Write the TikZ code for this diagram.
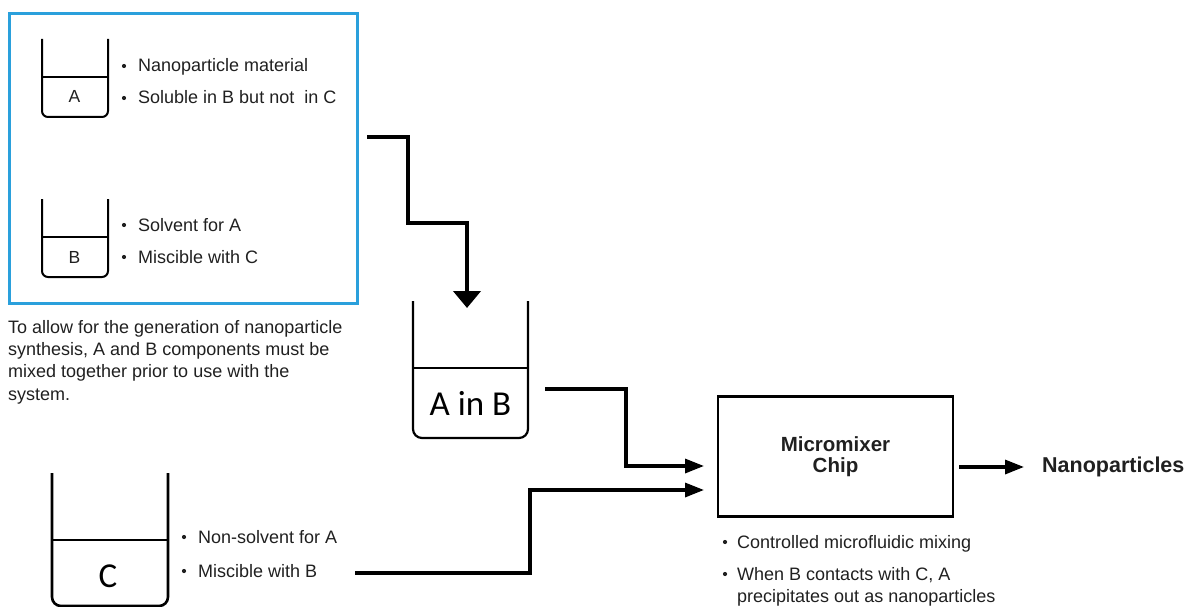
\documentclass[tikz,border=0pt]{standalone}
\usepackage{fontspec}
\setmainfont{Liberation Sans}
\newfontfamily\calfont{Carlito}
\usetikzlibrary{arrows.meta}
\definecolor{boxblue}{RGB}{42,160,220}
\definecolor{ink}{RGB}{32,32,32}
% beaker: [opts]{left}{top}{right}{level}{bottom}
\newcommand{\beaker}[6][]{%
  \draw[vessel,#1] (#2,#3) -- (#2,#6) -- (#4,#6) -- (#4,#3);
  \draw[vessel,#1] (#2,#5) -- (#4,#5);}

\begin{document}
\begin{tikzpicture}[
  x=1pt, y=-1pt,
  line join=miter,
  vessel/.style={line width=2pt, rounded corners=6pt},
  group/.style={draw=boxblue, line width=3pt},
  note/.style={anchor=base west, inner sep=0pt, text=ink, font=\fontsize{18}{22.3}\selectfont},
  dotmark/.style={circle, fill=ink, inner sep=0pt, minimum size=4.2pt},
  tag/.style={anchor=base, inner sep=0pt, text=ink, font=\fontsize{17.5}{20}\selectfont},
  bigtag/.style={anchor=base, inner sep=0pt, font=\calfont\fontsize{35}{35}\selectfont},
  chipbox/.style={draw, line width=2.6pt, minimum width=235pt, minimum height=120pt,
    align=center, text=ink, font=\bfseries\fontsize{20.5}{21.5}\selectfont},
  feed/.style={line width=4.5pt, -{Triangle[width=27pt,length=17pt]}},
  flow/.style={line width=3.3pt, -{Triangle[width=14pt,length=19pt]}}
]
  \useasboundingbox (0,0) rectangle (1188,607);

  % group of the two components
  \draw[group] (9.5,14) rectangle (357.5,303);

  % beakers
  \beaker{42}{39}{108}{77}{117}
  \beaker{42}{199}{108}{237}{277}
  \beaker[line width=2.2pt, rounded corners=9pt]{413}{301}{528}{368}{438}
  \beaker[line width=2.6pt, rounded corners=9pt]{52}{473}{168}{540}{606}
  \node[tag] (lblA) at (74.5,103) {A};
  \node[tag] (lblB) at (74.5,263) {B};
  \node[bigtag] (lblAB) at (470.5,415) {A in B};
  \node[bigtag] (lblC) at (108,587) {C};

  % properties of A and B
  \node[dotmark] (dA1) at (124,66) {};
  \node[note] (tA1) at (138,72) {Nanoparticle material};
  \node[dotmark] (dA2) at (124,98) {};
  \node[note] (tA2) at (138,104) {Soluble in B but not\ \ in C};
  \node[dotmark] (dB1) at (124,225) {};
  \node[note] (tB1) at (138,231) {Solvent for A};
  \node[dotmark] (dB2) at (124,257) {};
  \node[note] (tB2) at (138,263) {Miscible with C};

  % remark under the group
  \node[note, anchor=north west, align=left] (remark) at (8,320)
    {To allow for the generation of nanoparticle\\
     synthesis, A and B components must be\\
     mixed together prior to use with the\\
     system.};

  % properties of C
  \node[dotmark] (dC1) at (184,537) {};
  \node[note] (tC1) at (198,543) {Non-solvent for A};
  \node[dotmark] (dC2) at (184,571) {};
  \node[note] (tC2) at (198,577) {Miscible with B};

  % mixer
  \node[chipbox] (chip) at (835.5,456.5) {Micromixer\\Chip};
  \node[note, font=\bfseries\fontsize{21.5}{24}\selectfont] (np) at (1042,472) {Nanoparticles};
  \node[dotmark] (dM1) at (725,542) {};
  \node[note] (tM1) at (737,548) {Controlled microfluidic mixing};
  \node[dotmark] (dM2) at (725,574) {};
  \node[note] (tM2) at (737,580) {When B contacts with C, A};
  \node[note] (tM3) at (737,602) {precipitates out as nanoparticles};

  % connector ends
  \coordinate (grp-out) at (367,137);
  \coordinate (ab-in) at (467,308);
  \coordinate (ab-out) at (545,389);
  \coordinate (c-out) at (355,573);
  \coordinate (chip-in1) at (704,466);
  \coordinate (chip-in2) at (704,490);
  \coordinate (chip-out) at (959,467);
  \coordinate (np-in) at (1024,467);

  % connectors
  \draw[feed] (grp-out) -- ++(41,0) -- ++(0,86) -| (ab-in);
  \draw[flow] (ab-out) -- ++(81,0) |- (chip-in1);
  \draw[flow] (c-out) -- ++(175,0) |- (chip-in2);
  \draw[flow] (chip-out) -- (np-in);
\end{tikzpicture}
\end{document}
